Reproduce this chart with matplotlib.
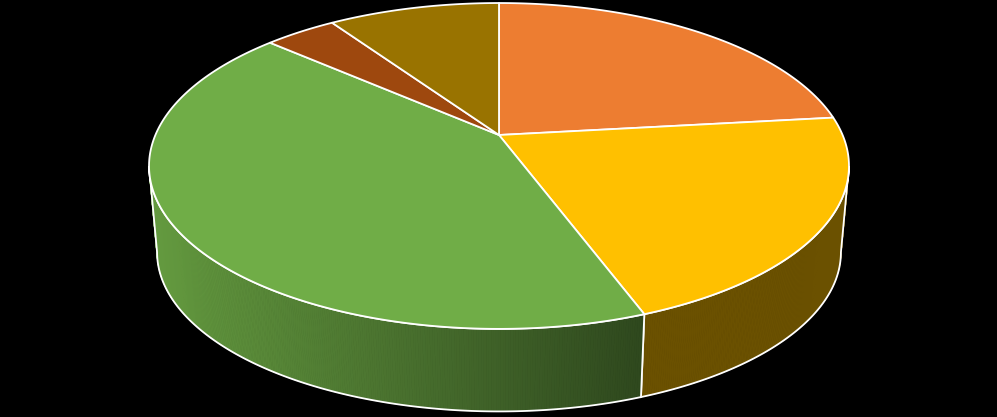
import numpy as np
import matplotlib
matplotlib.use("Agg")
import matplotlib.pyplot as plt
from matplotlib.patches import Polygon
from matplotlib.colors import to_rgb

# slice data (Excel order: clockwise from 12 o'clock)
categories = ["Slice 1", "Slice 2", "Slice 3", "Slice 4", "Slice 5"]
values = [23.2, 21.15, 42.15, 4.0, 9.5]
colors = ["#ED7D31", "#FFC000", "#70AD47", "#9E480E", "#997300"]

# perspective layout of the 3-D pie (pixel space)
CX, CY = 499, 135
K, P, R = 343.6, 131.4, 0.19
DEPTH = 87
BOTTOM_SCALE = 0.977
EDGE = "white"


def project(theta, bottom=False):
    th = np.radians(theta)
    s, t = np.sin(th), -np.cos(th)
    den = 1 - R * t
    x = CX + K * s / den
    y = (P * t + CY) / den
    if bottom:
        x = CX + (x - CX) * BOTTOM_SCALE
        y = CY + (y - CY) * BOTTOM_SCALE + DEPTH
    return x, y


def shade(x):
    return float(np.clip(0.88 - (x - 160) * 0.46 / 480, 0.42, 0.9))


fig = plt.figure(figsize=(9.97, 4.17), dpi=100, facecolor="black")
ax = fig.add_axes([0, 0, 1, 1])
ax.set_facecolor("black")
ax.set_xlim(0, 997)
ax.set_ylim(417, 0)
ax.axis("off")

bounds = np.concatenate([[0], np.cumsum(values) / np.sum(values) * 360])
t_vis = np.degrees(np.arccos(-R))  # right tangent angle
vis_lo, vis_hi = t_vis, 360 - t_vis

# side walls
for i, col in enumerate(colors):
    a0, a1 = max(bounds[i], vis_lo), min(bounds[i + 1], vis_hi)
    if a1 <= a0:
        continue
    base = np.array(to_rgb(col))
    angs = np.linspace(a0, a1, max(int((a1 - a0) * 3), 2))
    xt, yt = project(angs)
    xb, yb = project(angs, bottom=True)
    for j in range(len(angs) - 1):
        quad = [(xt[j], yt[j]), (xt[j + 1], yt[j + 1]),
                (xb[j + 1], yb[j + 1]), (xb[j], yb[j])]
        c = base * shade((xt[j] + xt[j + 1]) / 2)
        ax.add_patch(Polygon(quad, closed=True, facecolor=c, edgecolor=c, lw=0.6))
    outline = list(zip(xt, yt)) + list(zip(xb[::-1], yb[::-1]))
    ax.add_patch(Polygon(outline, closed=True, facecolor="none", edgecolor=EDGE, lw=1.3))

# top faces
for i, col in enumerate(colors):
    angs = np.linspace(bounds[i], bounds[i + 1], 200)
    xs, ys = project(angs)
    pts = [(CX, CY)] + list(zip(xs, ys))
    ax.add_patch(Polygon(pts, closed=True, facecolor=col, edgecolor=EDGE, lw=1.3,
                         joinstyle="round"))

fig.savefig("out.png", dpi=100, facecolor="black")
